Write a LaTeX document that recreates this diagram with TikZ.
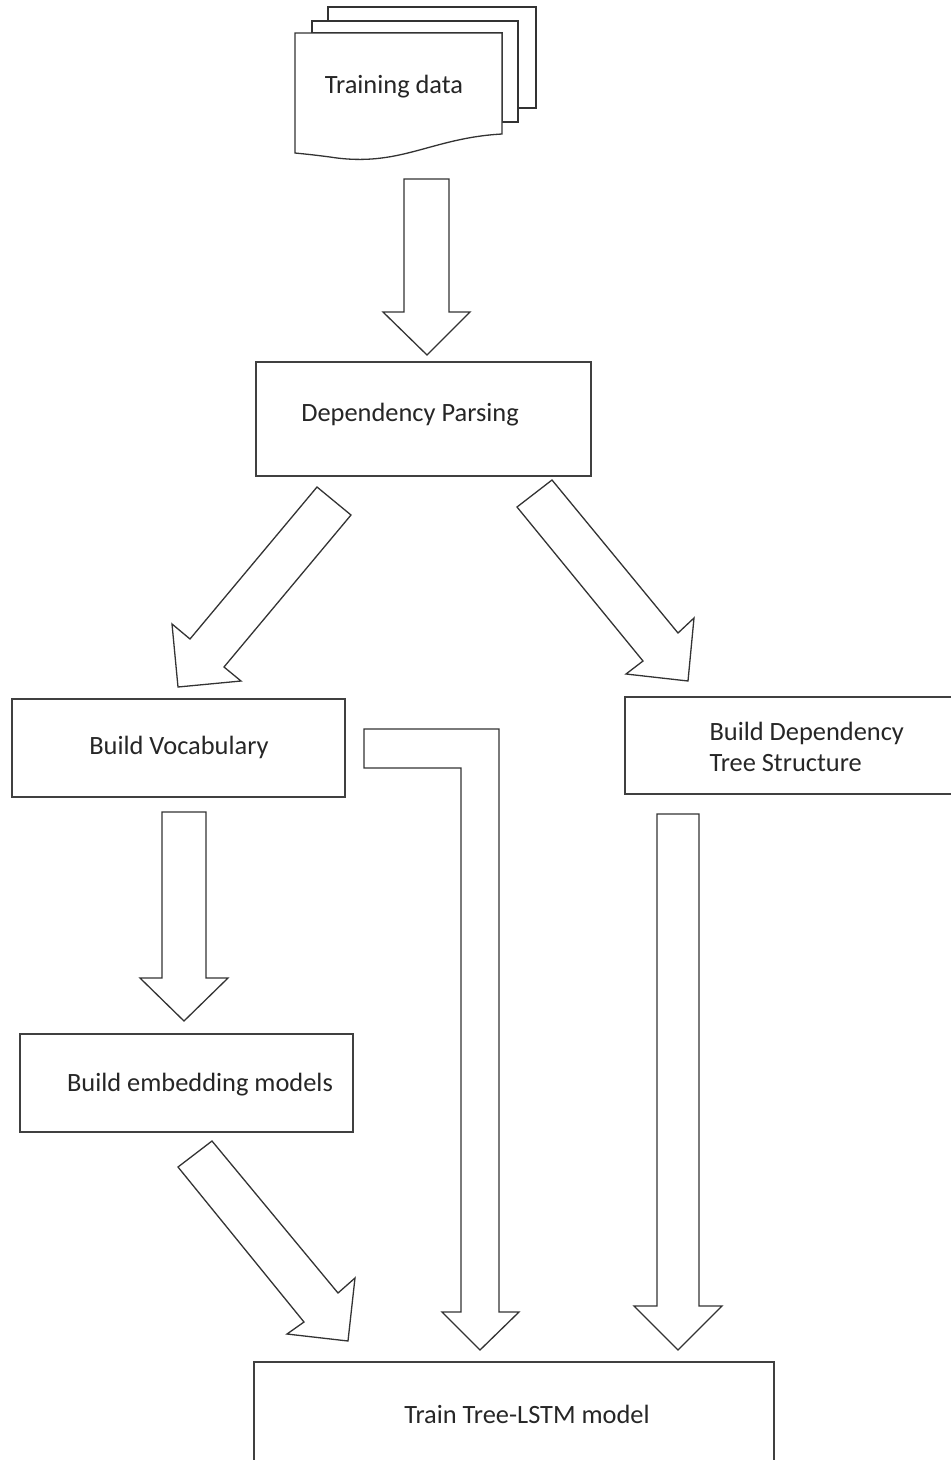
\documentclass[tikz,border=0pt]{standalone}
\usepackage{fontspec}
\setmainfont{Carlito}
\begin{document}
\begin{tikzpicture}[x=1pt,y=-1pt,
  box/.style={draw=black!75,line width=1.3pt,fill=white,rectangle,inner sep=0pt},
  blockarrow/.style={draw=black!80,line width=1.3pt,fill=white,line join=miter},
  page/.style={draw=black!80,line width=1.3pt,fill=white},
  lbl/.style={font=\fontsize{26.4}{31}\selectfont,text=black!85}]
\useasboundingbox (0,0) rectangle (951,1460);
% document stack
\draw[page] (328,7) -- (536,7) -- (536,108) -- (518,108) -- (518,21) -- (328,21) -- cycle;
\draw[page] (312,21) -- (518,21) -- (518,122) -- (502,122) -- (502,33) -- (312,33) -- cycle;
\draw[page] (295,33) -- (502,33) -- (502,134) .. controls (430,138) and (400,168) .. (330,157) .. controls (315,155) and (305,154) .. (295,153) -- cycle;
\node[lbl] (td) at (394,87) {Training data};
% boxes
\node[box,minimum width=335pt,minimum height=114pt] (dp) at (423.5,419) {};
\node[lbl] (dpt) at (410,415) {Dependency Parsing};
\node[box,minimum width=333pt,minimum height=98pt] (bv) at (178.5,748) {};
\node[lbl] (bvt) at (179,747) {Build Vocabulary};
\node[box,minimum width=340pt,minimum height=97pt] (bd) at (795,745.5) {};
\node[lbl,align=left,anchor=west] (bdt) at (706,747) {Build Dependency\\Tree Structure};
\node[box,minimum width=333pt,minimum height=98pt] (be) at (186.5,1083) {};
\node[lbl] (bet) at (200,1085) {Build embedding models};
\node[box,minimum width=520pt,minimum height=110pt] (tt) at (514,1417) {};
\node[lbl] (ttt) at (527,1414) {Train Tree-LSTM model};
% block arrows
\draw[blockarrow] (404,179) -- (449,179) -- (449,312) -- (470,312) -- (427,355) -- (383,312) -- (404,312) -- cycle;
\draw[blockarrow] (317,487) -- (351,515) -- (224,667) -- (241,681) -- (178,687) -- (172,624) -- (190,639) -- cycle;
\draw[blockarrow] (552,480) -- (517,507) -- (643,661) -- (626,674) -- (688,681) -- (694,618) -- (678,633) -- cycle;
\draw[blockarrow] (162,812) -- (206,812) -- (206,978) -- (228,978) -- (184,1021) -- (140,978) -- (162,978) -- cycle;
\draw[blockarrow] (212,1141) -- (178,1167) -- (304,1322) -- (287,1334) -- (348,1341) -- (355,1278) -- (338,1293) -- cycle;
\draw[blockarrow] (364,729) -- (499,729) -- (499,1312) -- (519,1312) -- (480,1350) -- (442,1312) -- (461,1312) -- (461,768) -- (364,768) -- cycle;
\draw[blockarrow] (657,814) -- (699,814) -- (699,1306) -- (722,1306) -- (678,1350) -- (634,1306) -- (657,1306) -- cycle;
\end{tikzpicture}
\end{document}
